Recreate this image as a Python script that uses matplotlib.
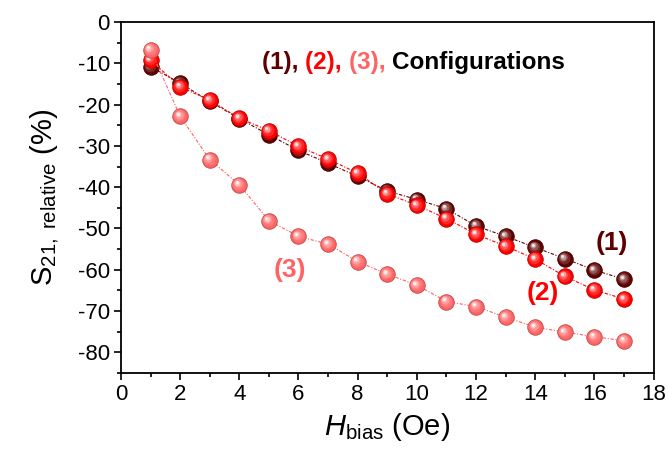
import matplotlib
matplotlib.use("Agg")
import matplotlib.pyplot as plt
import matplotlib.transforms as mtransforms
from matplotlib.ticker import MultipleLocator
from matplotlib.colors import to_rgb

plt.rcParams['font.family'] = ['Liberation Sans', 'DejaVu Sans']
plt.rcParams['mathtext.fontset'] = 'custom'
plt.rcParams['mathtext.rm'] = 'Liberation Sans'
plt.rcParams['mathtext.it'] = 'Liberation Sans:italic'
plt.rcParams['mathtext.bf'] = 'Liberation Sans:bold'
plt.rcParams['axes.unicode_minus'] = False

# Bias field (Oe)
h_bias = [1, 2, 3, 4, 5, 6, 7, 8, 9, 10, 11, 12, 13, 14, 15, 16, 17]

# Relative S21 change (%) for each configuration
s21_config1 = [-10.8, -14.8, -19.2, -23.4, -27.3, -31.1, -34.2, -37.4, -40.9,
               -43.0, -45.2, -49.4, -51.9, -54.6, -57.3, -60.1, -62.3]
s21_config2 = [-9.2, -15.7, -18.9, -23.3, -26.3, -30.1, -33.2, -36.6, -41.6,
               -44.4, -47.6, -51.4, -54.3, -57.4, -61.6, -64.9, -67.1]
s21_config3 = [-6.7, -22.8, -33.3, -39.4, -48.1, -51.9, -53.8, -58.0, -61.1,
               -63.7, -67.7, -68.9, -71.5, -73.9, -75.1, -76.2, -77.2]

series = [
    (s21_config1, '#5e0000', '(1)'),
    (s21_config2, '#ff0000', '(2)'),
    (s21_config3, '#ff6464', '(3)'),
]

fig = plt.figure(figsize=(6.68, 4.59), dpi=100)
ax = fig.add_axes([0.181, 0.1874, 0.7975, 0.7646])


def mix(c, w, t):
    c = to_rgb(c)
    return tuple(ci + (wi - ci) * t for ci, wi in zip(c, w))


def sphere(ax, x, y, color, z):
    # base ball with slightly darker rim
    ax.plot(x, y, ls='none', marker='o', ms=11.2, mfc=color,
            mec=mix(color, (0, 0, 0), 0.25), mew=0.6, zorder=z)
    # shading layers shifted toward the upper-left highlight
    steps = [(8.5, 0.15, 0.6), (6.0, 0.35, 1.1), (4.0, 0.6, 1.5), (2.2, 0.9, 1.8)]
    for ms, t, off in steps:
        tr = ax.transData + mtransforms.ScaledTranslation(-off / 72, off / 72,
                                                          fig.dpi_scale_trans)
        ax.plot(x, y, ls='none', marker='o', ms=ms, mfc=mix(color, (1, 1, 1), t),
                mec='none', transform=tr, zorder=z + 0.01)


for i, (vals, col, _) in enumerate(series):
    ax.plot(h_bias, vals, color=col, lw=0.8, ls=(0, (3, 1.5, 1, 1.5)), zorder=2 + i)
    sphere(ax, h_bias, vals, col, 3 + i)

ax.set_xlim(0, 18)
ax.set_ylim(-85, 0)
ax.xaxis.set_major_locator(MultipleLocator(2))
ax.xaxis.set_minor_locator(MultipleLocator(1))
ax.yaxis.set_major_locator(MultipleLocator(10))
ax.yaxis.set_minor_locator(MultipleLocator(5))
ax.tick_params(which='major', direction='out', length=5, width=1.2, labelsize=16,
               top=False, right=False, pad=3)
ax.tick_params(which='minor', direction='out', length=3, width=1.2,
               top=False, right=False)
for sp in ax.spines.values():
    sp.set_linewidth(1.3)

ax.set_xlabel(r'$H$$_{\mathregular{bias}}$ (Oe)', fontsize=21, labelpad=4)
ax.set_ylabel(r'S$_{\mathregular{21,\ relative}}$ (%)', fontsize=21, labelpad=12)

# title-like legend line
tx, ty = 0.265, 0.885
parts = [('(1), ', series[0][1]), ('(2), ', series[1][1]),
         ('(3), ', series[2][1]), ('Configurations', 'black')]
t = None
for txt, col in parts:
    if t is None:
        t = ax.text(tx, ty, txt, color=col, fontsize=17.5, fontweight='bold',
                    transform=ax.transAxes, va='center', ha='left')
    else:
        t = ax.annotate(txt, xycoords=t, xy=(1, 0), va='bottom', ha='left',
                        color=col, fontsize=17.5, fontweight='bold')

# curve labels
ax.text(16.6, -53.6, '(1)', color=series[0][1], fontsize=19, fontweight='bold',
        ha='center', va='center')
ax.text(14.25, -65.7, '(2)', color=series[1][1], fontsize=19, fontweight='bold',
        ha='center', va='center')
ax.text(5.72, -60.1, '(3)', color=series[2][1], fontsize=19, fontweight='bold',
        ha='center', va='center')

fig.savefig('out.png', dpi=100)
